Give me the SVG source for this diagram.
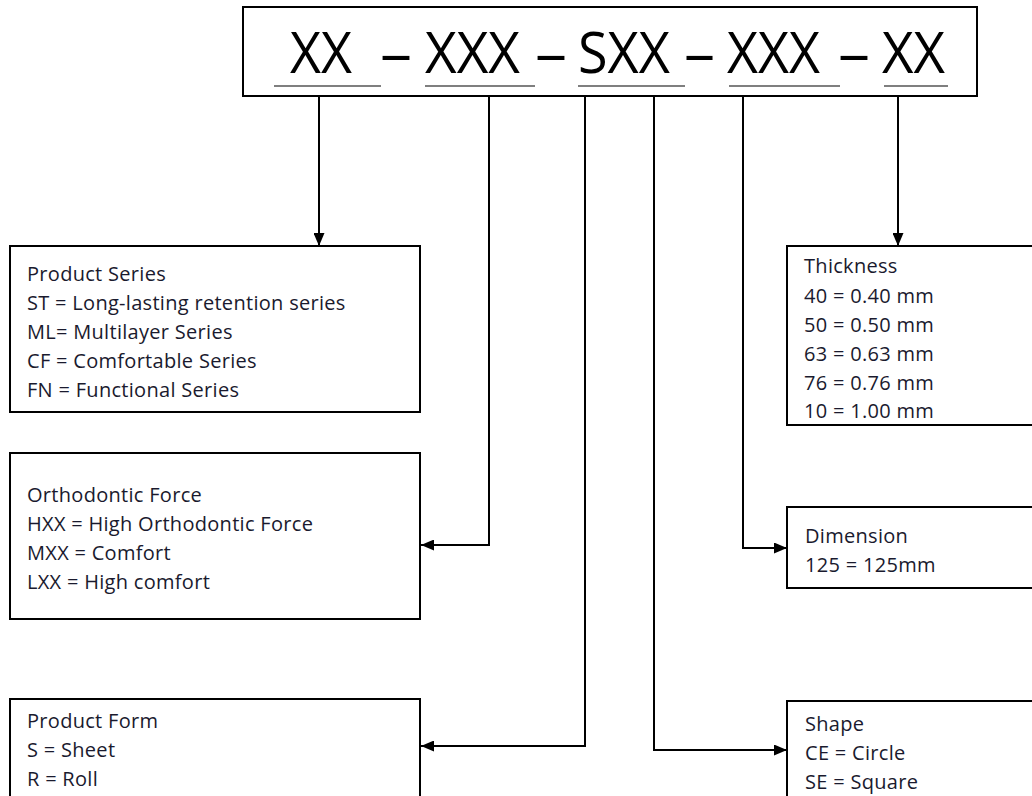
<svg xmlns="http://www.w3.org/2000/svg" width="1032" height="796" viewBox="0 0 1032 796">
<style>
.box{fill:#fff;stroke:#000;stroke-width:2}
.t{font-family:"Open Sans",Lato,sans-serif;font-size:20px;letter-spacing:0.3px;fill:#1a1a2e}
.big{font-family:"Open Sans","Liberation Sans",sans-serif;font-size:56px;fill:#000}
.ul{stroke:#555;stroke-width:1.5}
.c{fill:none;stroke:#000;stroke-width:2}
</style>
<defs>
<marker id="ah" markerUnits="userSpaceOnUse" markerWidth="13" markerHeight="11" refX="13" refY="5.5" orient="auto">
<path d="M0,0 L13,5.5 L0,11 z" fill="#000"/>
</marker>
</defs>
<rect width="1032" height="796" fill="#fff"/>
<g id="code">
<rect class="box" x="243" y="7" width="734" height="89"/>
<text class="big" x="290" y="73" textLength="62" lengthAdjust="spacingAndGlyphs">XX</text>
<text class="big" x="380" y="73" textLength="32" lengthAdjust="spacingAndGlyphs">–</text>
<text class="big" x="425" y="73" textLength="95" lengthAdjust="spacingAndGlyphs">XXX</text>
<text class="big" x="535" y="73" textLength="32" lengthAdjust="spacingAndGlyphs">–</text>
<text class="big" x="578" y="73" textLength="92" lengthAdjust="spacingAndGlyphs">SXX</text>
<text class="big" x="684" y="73" textLength="31" lengthAdjust="spacingAndGlyphs">–</text>
<text class="big" x="727" y="73" textLength="93" lengthAdjust="spacingAndGlyphs">XXX</text>
<text class="big" x="838" y="73" textLength="32" lengthAdjust="spacingAndGlyphs">–</text>
<text class="big" x="882" y="73" textLength="63" lengthAdjust="spacingAndGlyphs">XX</text>
<line class="ul" x1="274" y1="86" x2="381" y2="86"/>
<line class="ul" x1="425" y1="86" x2="535" y2="86"/>
<line class="ul" x1="578" y1="86" x2="685" y2="86"/>
<line class="ul" x1="729" y1="86" x2="840" y2="86"/>
<line class="ul" x1="884" y1="86" x2="948" y2="86"/>
</g>
<g id="connectors">
<path class="c" d="M319,96 V246" marker-end="url(#ah)"/>
<path class="c" d="M489,96 V545 H421" marker-end="url(#ah)"/>
<path class="c" d="M585,96 V746 H421" marker-end="url(#ah)"/>
<path class="c" d="M654,96 V750 H787" marker-end="url(#ah)"/>
<path class="c" d="M743,96 V548 H787" marker-end="url(#ah)"/>
<path class="c" d="M898,96 V246" marker-end="url(#ah)"/>
</g>
<g id="product-series">
<rect class="box" x="10" y="246" width="410" height="166"/>
<text class="t" x="27" y="281">Product Series</text>
<text class="t" x="27" y="310">ST = Long-lasting retention series</text>
<text class="t" x="27" y="339">ML= Multilayer Series</text>
<text class="t" x="27" y="368">CF = Comfortable Series</text>
<text class="t" x="27" y="397">FN = Functional Series</text>
</g>
<g id="orthodontic-force">
<rect class="box" x="10" y="453" width="410" height="166"/>
<text class="t" x="27" y="502">Orthodontic Force</text>
<text class="t" x="27" y="531">HXX = High Orthodontic Force</text>
<text class="t" x="27" y="560">MXX = Comfort</text>
<text class="t" x="27" y="589">LXX = High comfort</text>
</g>
<g id="product-form">
<rect class="box" x="10" y="699" width="410" height="110"/>
<text class="t" x="27" y="728">Product Form</text>
<text class="t" x="27" y="757">S = Sheet</text>
<text class="t" x="27" y="786">R = Roll</text>
</g>
<g id="thickness">
<rect class="box" x="787" y="246" width="260" height="179"/>
<text class="t" x="804" y="273">Thickness</text>
<text class="t" x="804" y="303">40 = 0.40 mm</text>
<text class="t" x="804" y="332">50 = 0.50 mm</text>
<text class="t" x="804" y="361">63 = 0.63 mm</text>
<text class="t" x="804" y="390">76 = 0.76 mm</text>
<text class="t" x="804" y="418">10 = 1.00 mm</text>
</g>
<g id="dimension">
<rect class="box" x="787" y="507" width="260" height="81"/>
<text class="t" x="805" y="543">Dimension</text>
<text class="t" x="805" y="572">125 = 125mm</text>
</g>
<g id="shape">
<rect class="box" x="787" y="701" width="260" height="110"/>
<text class="t" x="805" y="731">Shape</text>
<text class="t" x="805" y="760">CE = Circle</text>
<text class="t" x="805" y="789">SE = Square</text>
</g>
</svg>
